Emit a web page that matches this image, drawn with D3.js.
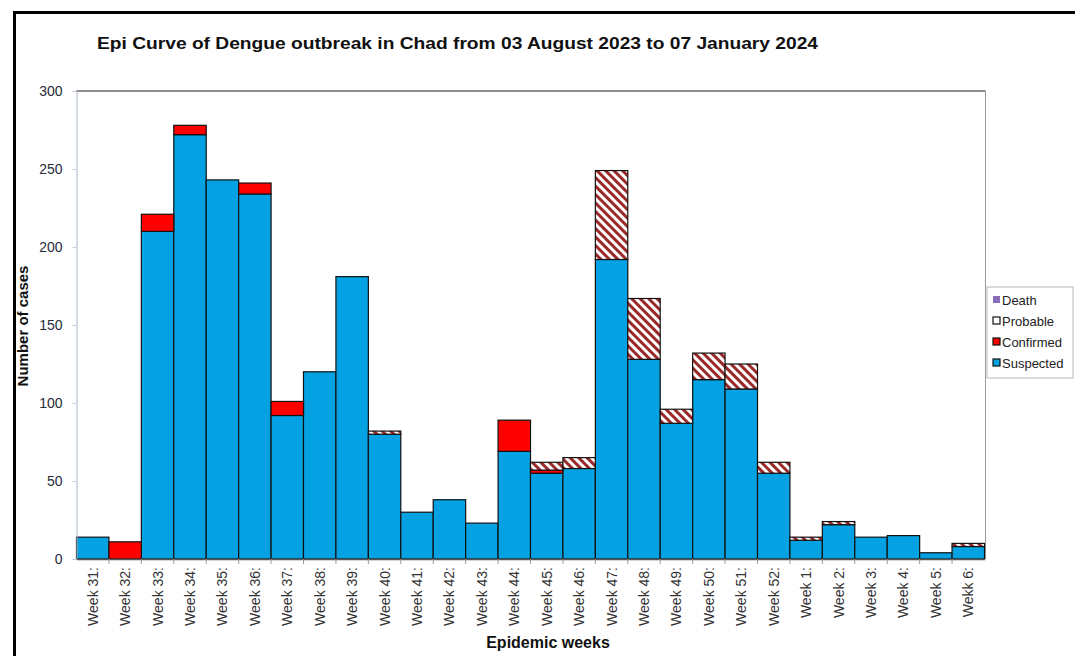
<!DOCTYPE html>
<html>
<head>
<meta charset="utf-8">
<script src="https://cdn.jsdelivr.net/npm/d3@7"></script>
<style>
  html, body { margin: 0; padding: 0; background: #fff; }
  svg { display: block; font-family: "Liberation Sans", Arial, sans-serif; }
</style>
</head>
<body>
<svg id="chart" width="1075" height="656"></svg>
<script>
// Epidemic weeks (week 31 of 2023 to week 6 of 2024)
const weeks = ["Week 31:", "Week 32:", "Week 33:", "Week 34:", "Week 35:", "Week 36:", "Week 37:",
  "Week 38:", "Week 39:", "Week 40:", "Week 41:", "Week 42:", "Week 43:", "Week 44:", "Week 45:",
  "Week 46:", "Week 47:", "Week 48:", "Week 49:", "Week 50:", "Week 51:", "Week 52:", "Week 1:",
  "Week 2:", "Week 3:", "Week 4:", "Week 5:", "Wekk 6:"];

// Case counts per week, by classification
const suspected = [14, 0, 210, 272, 243, 234, 92, 120, 181, 80, 30, 38, 23, 69, 55, 58, 192, 128, 87, 115, 109, 55, 12, 22, 14, 15, 4, 8];
const confirmed = [0, 11, 11, 6, 0, 7, 9, 0, 0, 0, 0, 0, 0, 20, 2, 0, 0, 0, 0, 0, 0, 0, 0, 0, 0, 0, 0, 0];
const probable  = [0, 0, 0, 0, 0, 0, 0, 0, 0, 2, 0, 0, 0, 0, 5, 7, 57, 39, 9, 17, 16, 7, 2, 2, 0, 0, 0, 2];
const death     = [0, 0, 0, 0, 0, 0, 0, 0, 0, 0, 0, 0, 0, 0, 0, 0, 0, 0, 0, 0, 0, 0, 0, 0, 0, 0, 0, 0];

const yTicks = [0, 50, 100, 150, 200, 250, 300];

const seriesKeys = ["Suspected", "Confirmed", "Probable", "Death"];
const seriesData = { Suspected: suspected, Confirmed: confirmed, Probable: probable, Death: death };

const svg = d3.select("#chart");

// outer frame
svg.append("rect")
  .attr("x", 14.5).attr("y", 12.5)
  .attr("width", 1100).attr("height", 700)
  .attr("fill", "none").attr("stroke", "#000").attr("stroke-width", 3);

const plot = { left: 76.5, right: 984.5, top: 91, bottom: 559 };

const x = d3.scaleBand().domain(weeks).range([plot.left, plot.right]).padding(0);
const y = d3.scaleLinear().domain([0, 300]).range([plot.bottom, plot.top]);

// hatch fill for probable cases
const defs = svg.append("defs");
const pat = defs.append("pattern")
  .attr("id", "hatch")
  .attr("patternUnits", "userSpaceOnUse")
  .attr("width", 6).attr("height", 6)
  .attr("patternTransform", "rotate(-45)");
pat.append("rect").attr("width", 6).attr("height", 6).attr("fill", "#fff");
pat.append("rect").attr("x", 0).attr("y", 0).attr("width", 3).attr("height", 6).attr("fill", "#9a2a2a");

const colors = { Suspected: "#04a2e2", Confirmed: "#ff0000", Probable: "url(#hatch)", Death: "#8a6bb8" };

// plot frame
svg.append("line").attr("x1", plot.left).attr("x2", plot.right + 1).attr("y1", plot.top).attr("y2", plot.top)
  .attr("stroke", "#8c8c8c").attr("stroke-width", 2);
svg.append("line").attr("x1", plot.right + 1).attr("x2", plot.right + 1).attr("y1", plot.top).attr("y2", plot.bottom)
  .attr("stroke", "#9a9a9a").attr("stroke-width", 1);

// stacked bars
const rows = weeks.map((w, i) => {
  const r = { week: w };
  seriesKeys.forEach(k => { r[k] = seriesData[k][i]; });
  return r;
});
const stack = d3.stack().keys(seriesKeys)(rows);

const layers = svg.append("g").selectAll("g")
  .data(stack).join("g")
  .attr("fill", d => colors[d.key]);

layers.selectAll("rect")
  .data(d => d.filter(s => s[1] - s[0] > 0))
  .join("rect")
  .attr("x", d => x(d.data.week))
  .attr("width", x.bandwidth())
  .attr("y", d => y(d[1]))
  .attr("height", d => y(d[0]) - y(d[1]))
  .attr("stroke", "#111")
  .attr("stroke-width", 1.2);

// y axis
const yAxis = svg.append("g")
  .attr("transform", `translate(${plot.left},0)`)
  .call(d3.axisLeft(y).tickValues(yTicks).tickSize(4).tickPadding(10));
yAxis.select(".domain").attr("stroke", "#aab6c8");
yAxis.selectAll(".tick line").attr("stroke", "#c4ccd8");
yAxis.selectAll(".tick text")
  .attr("fill", "#262b3a")
  .style("font-size", "14px")
  .style("font-family", "'Liberation Sans', Arial, sans-serif");

// x axis
const xAxis = svg.append("g")
  .attr("transform", `translate(0,${plot.bottom})`)
  .call(d3.axisBottom(x).tickSize(0).tickPadding(0));
xAxis.select(".domain").attr("stroke", "#555").attr("stroke-width", 1.5);
xAxis.selectAll(".tick text")
  .attr("fill", "#333")
  .style("font-size", "14px")
  .style("font-family", "'Liberation Sans', Arial, sans-serif")
  .attr("text-anchor", "end")
  .attr("transform", "translate(5,8) rotate(-90)")
  .attr("dy", 0)
  .attr("y", 0)
  .attr("x", 0);

// boundary tick marks below the baseline
svg.append("g").selectAll("line")
  .data(weeks.slice(1))
  .join("line")
  .attr("x1", d => x(d)).attr("x2", d => x(d))
  .attr("y1", plot.bottom).attr("y2", plot.bottom + 5)
  .attr("stroke", "#999");

// titles
svg.append("text")
  .attr("x", 97).attr("y", 49)
  .attr("font-size", "17px").attr("font-weight", "bold").attr("fill", "#111")
  .attr("textLength", 721).attr("lengthAdjust", "spacingAndGlyphs")
  .text("Epi Curve of Dengue outbreak in Chad from 03 August 2023 to 07 January 2024");

svg.append("text")
  .attr("transform", `translate(28,326) rotate(-90)`)
  .attr("text-anchor", "middle")
  .attr("font-size", "15px").attr("font-weight", "bold").attr("fill", "#111")
  .text("Number of cases");

svg.append("text")
  .attr("x", 548).attr("y", 648)
  .attr("text-anchor", "middle")
  .attr("font-size", "16px").attr("font-weight", "bold").attr("fill", "#111")
  .text("Epidemic weeks");

// legend
const legend = svg.append("g").attr("transform", "translate(987,287)");
legend.append("rect")
  .attr("width", 86).attr("height", 91)
  .attr("fill", "#fff").attr("stroke", "#b8b8b8").attr("stroke-width", 1);
const legendItems = [
  { key: "Death", fill: "#8a6bb8", stroke: "none" },
  { key: "Probable", fill: "#fff", stroke: "#111" },
  { key: "Confirmed", fill: "#ff0000", stroke: "#111" },
  { key: "Suspected", fill: "#04a2e2", stroke: "#111" }
];
const li = legend.selectAll("g.item").data(legendItems).join("g")
  .attr("class", "item")
  .attr("transform", (d, i) => `translate(6,${13 + i * 21})`);
li.append("rect")
  .attr("x", 0).attr("y", -4).attr("width", 7).attr("height", 7)
  .attr("fill", d => d.fill).attr("stroke", d => d.stroke).attr("stroke-width", 1.2);
li.append("text")
  .attr("x", 9).attr("y", 4.5)
  .attr("font-size", "13px").attr("fill", "#222")
  .text(d => d.key);
</script>
</body>
</html>
